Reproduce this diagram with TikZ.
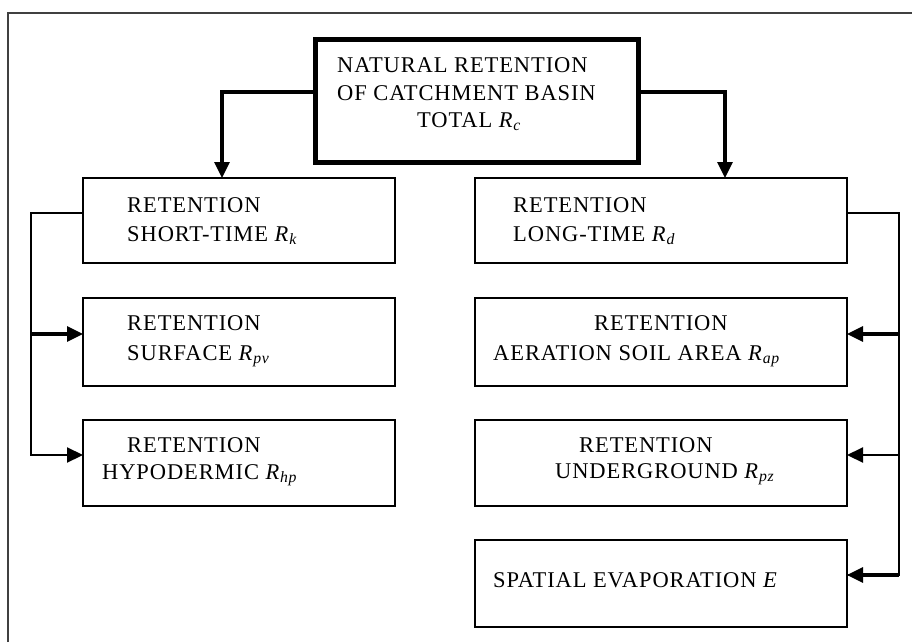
\documentclass[tikz,border=0pt]{standalone}
\usepackage{fontspec}
\setmainfont{Liberation Serif}[LetterSpace=4]
\usetikzlibrary{arrows.meta}
\newcommand\Rs[1]{\textit{R}\textsubscript{\textit{#1}}}
\begin{document}
\begin{tikzpicture}[x=1pt,y=-1pt,
  box/.style={draw,line width=2.7pt,inner sep=0pt,outer sep=0pt},
  mainbox/.style={draw,line width=5pt,inner sep=0pt,outer sep=0pt},
  lbl/.style={anchor=base west,inner sep=0pt,font=\fontsize{22.5}{27}\selectfont},
  wire/.style={line width=2.2pt},
  heavy/.style={line width=3.2pt},
  tip/.style={-{Triangle[length=16pt,width=15pt]}}]
\useasboundingbox (0,0) rectangle (912,642);
\draw[line width=1.4pt,black!75] (8,642) -- (8,13) -- (912,13);
% boxes
\node[mainbox,minimum width=323pt,minimum height=122pt] (top) at (476.5,101) {};
\node[box,minimum width=312pt,minimum height=85pt] (k) at (239,220.5) {};
\node[box,minimum width=312pt,minimum height=88pt] (pv) at (239,342) {};
\node[box,minimum width=312pt,minimum height=86pt] (hp) at (239,463) {};
\node[box,minimum width=372pt,minimum height=85pt] (d) at (661,220.5) {};
\node[box,minimum width=372pt,minimum height=88pt] (ap) at (661,342) {};
\node[box,minimum width=372pt,minimum height=86pt] (pz) at (661,463) {};
\node[box,minimum width=372pt,minimum height=87pt] (ev) at (661,583.5) {};
% texts
\node[lbl] (top1) at (337,73) {NATURAL RETENTION};
\node[lbl] (top2) at (337,100) {OF CATCHMENT BASIN};
\node[lbl] (top3) at (417,127) {TOTAL \Rs{c}};
\node[lbl] (k1) at (127,212) {RETENTION};
\node[lbl] (k2) at (127,241) {SHORT-TIME \Rs{k}};
\node[lbl] (pv1) at (127,330) {RETENTION};
\node[lbl] (pv2) at (127,360) {SURFACE \Rs{pv}};
\node[lbl] (hp1) at (127,452) {RETENTION};
\node[lbl] (hp2) at (102,479) {HYPODERMIC \Rs{hp}};
\node[lbl] (d1) at (513,212) {RETENTION};
\node[lbl] (d2) at (513,241) {LONG-TIME \Rs{d}};
\node[lbl] (ap1) at (594,330) {RETENTION};
\node[lbl] (ap2) at (493,360) {AERATION SOIL AREA \Rs{ap}};
\node[lbl] (pz1) at (579,452) {RETENTION};
\node[lbl] (pz2) at (555,478) {UNDERGROUND \Rs{pz}};
\node[lbl] (ev1) at (493,587) {SPATIAL EVAPORATION \textit{E}};
% connectors from top
\draw[heavy,tip] ([yshift=9pt]top.west) -| ([xshift=-17pt]k.north);
\draw[heavy,tip] ([yshift=9pt]top.east) -| ([xshift=64pt]d.north);
% left bus
\coordinate (lbus) at (31,300);
\coordinate (kout) at ([yshift=7.5pt]k.west);
\coordinate (pvin) at ([yshift=8pt]pv.west);
\coordinate (hpin) at ([yshift=8pt]hp.west);
\draw[wire,tip] (kout) -| (lbus) |- (hpin);
\draw[heavy,tip] (pvin -| lbus) -- (pvin);
% right bus
\coordinate (rbus) at (899,300);
\coordinate (dout) at ([yshift=7.5pt]d.east);
\coordinate (apin) at ([yshift=8pt]ap.east);
\coordinate (pzin) at ([yshift=8pt]pz.east);
\coordinate (evin) at ([yshift=8.5pt]ev.east);
\draw[wire] (dout) -| (rbus) |- (evin);
\draw[heavy,tip] (evin -| rbus) -- (evin);
\draw[heavy,tip] (apin -| rbus) -- (apin);
\draw[wire,tip] (pzin -| rbus) -- (pzin);
\end{tikzpicture}
\end{document}
